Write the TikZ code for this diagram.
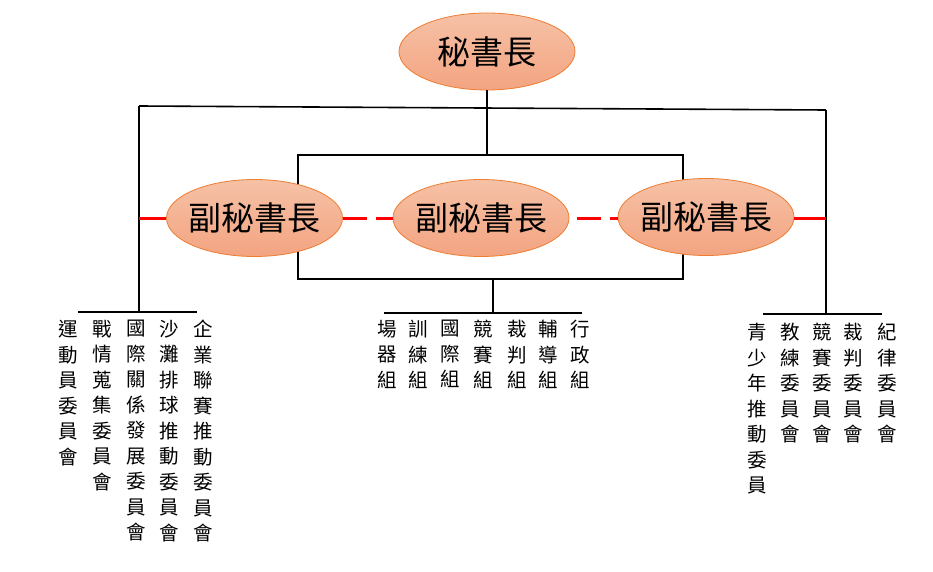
\documentclass[tikz,border=0pt]{standalone}
\usepackage{fontspec}
\newfontfamily\cjk{Noto Sans CJK TC}
\usetikzlibrary{shapes.geometric}
\definecolor{elltop}{RGB}{246,193,166}
\definecolor{ellbot}{RGB}{243,164,129}
\definecolor{ellline}{RGB}{237,125,49}
\definecolor{redline}{RGB}{255,0,0}
\newcommand{\ztext}[1]{\makebox[0pt][c]{#1}}
\tikzset{
  boss/.style={ellipse, draw=ellline, line width=0.8pt, top color=elltop, bottom color=ellbot,
    minimum width=176pt, minimum height=77pt, inner sep=0pt, font=\cjk\fontsize{33}{34}\selectfont},
  frame/.style={draw=black, line width=1.6pt, minimum width=385pt, minimum height=124pt, inner sep=0pt},
  bar/.style={draw=black, line width=1.6pt},
  link/.style={draw=redline, line width=3pt},
  dashlink/.style={link, dash pattern=on 24pt off 9pt},
  col/.style={anchor=north, align=center, inner sep=0pt, font=\cjk\fontsize{19.5}{25.5}\selectfont}
}
\begin{document}
\begin{tikzpicture}[x=1pt,y=-1pt]
\useasboundingbox (0,0) rectangle (933,572);
% frame behind middle ellipses
\node[frame] (box) at (490.5,217) {};
% coordinates of the bars
\coordinate (tl) at (139,106);
\coordinate (tr) at (826,110);
\coordinate (bl) at (139,312);
\coordinate (br) at (826,314);
\coordinate (cb) at (493,313);
\coordinate (bl1) at (78,312);
\coordinate (bl2) at (197,312);
\coordinate (bc1) at (384,313);
\coordinate (bc2) at (582,313);
\coordinate (br1) at (763,314);
\coordinate (br2) at (882,314);
% top node
\node[boss] (top) at (487,51.5) {\ztext{秘書長}};
% bars
\draw[bar] (tl) -- (tr);
\draw[bar] (tl) -- (bl);
\draw[bar] (tr) -- (br);
\draw[bar] (top.south) -- (top.south |- box.north);
\draw[bar] (cb |- box.south) -- (cb);
\draw[bar] (bl1) -- (bl2);
\draw[bar] (bc1) -- (bc2);
\draw[bar] (br1) -- (br2);
% middle ellipses
\node[boss] (vl) at (254.5,218) {\ztext{副秘書長}};
\node[boss] (vm) at (481,218) {\ztext{副秘書長}};
\node[boss] (vr) at (706,217) {\ztext{副秘書長}};
% red links
\draw[link] (vl.west -| tl) -- (vl.west);
\draw[dashlink] (vl.east) -- (vm.west);
\draw[dashlink, dash phase=25pt] (vm.east) -- (vr.west |- vm.east);
\draw[link] (vr.east |- vm.east) -- (vm.east -| tr);
% left group
\node[col] (l1) at (68,320) {運\\動\\員\\委\\員\\會};
\node[col] (l2) at (102,320) {戰\\情\\蒐\\集\\委\\員\\會};
\node[col] (l3) at (136,320) {國\\際\\關\\係\\發\\展\\委\\員\\會};
\node[col] (l4) at (169,320) {沙\\灘\\排\\球\\推\\動\\委\\員\\會};
\node[col] (l5) at (203,320) {企\\業\\聯\\賽\\推\\動\\委\\員\\會};
% center group
\node[col] (c1) at (387,320) {場\\器\\組};
\node[col] (c2) at (418,320) {訓\\練\\組};
\node[col] (c3) at (450,320) {國\\際\\組};
\node[col] (c4) at (483,320) {競\\賽\\組};
\node[col] (c5) at (517,320) {裁\\判\\組};
\node[col] (c6) at (548,320) {輔\\導\\組};
\node[col] (c7) at (580,320) {行\\政\\組};
% right group
\node[col] (r1) at (757,323) {青\\少\\年\\推\\動\\委\\員};
\node[col] (r2) at (790,323) {教\\練\\委\\員\\會};
\node[col] (r3) at (822,323) {競\\賽\\委\\員\\會};
\node[col] (r4) at (853,323) {裁\\判\\委\\員\\會};
\node[col] (r5) at (887,323) {紀\\律\\委\\員\\會};
\end{tikzpicture}
\end{document}
